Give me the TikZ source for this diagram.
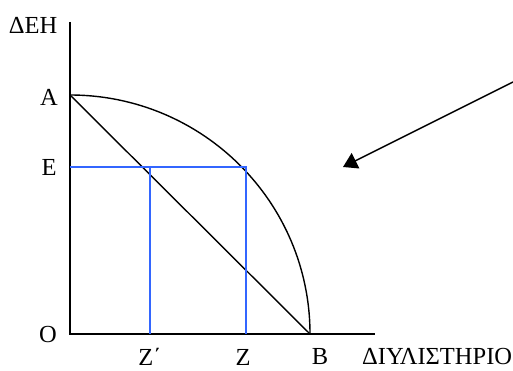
\documentclass[tikz,border=0pt]{standalone}
\usepackage{fontspec}
\setmainfont{Liberation Serif}
\usetikzlibrary{arrows.meta}
\definecolor{line_blue}{RGB}{51, 102, 255}

\tikzset{
  axis/.style={line width=2.2pt},
  bluecut/.style={draw=line_blue, line width=2.2pt},
  curvelabel/.style={font=\fontsize{24.5}{28}\selectfont, inner sep=0pt}
}

\begin{document}
\begin{tikzpicture}[x=1pt, y=1pt]
        \useasboundingbox (0,0) rectangle (513,370);
        % points
        \coordinate (O) at (70,36);
        \coordinate (top) at (70,348);
        \coordinate (xend) at (375,36);
        \coordinate (A) at (70,275);
        \coordinate (B) at (310,36);
        \coordinate (E) at (70,203);
        \coordinate (Zp) at (150,36);
        \coordinate (Z) at (246,36);
        \coordinate (Zptop) at (150,203);
        \coordinate (Ztop) at (246,203);
        \coordinate (arrstart) at (513,288);
        \coordinate (arrtip) at (343,203);

        % axes
        \draw[axis] (top) -- (O) -- (xend);

        % curve and straight line
        \draw[line width=1.4pt] (A) arc[start angle=90, end angle=0, x radius=240, y radius=239];
        \draw[line width=1.4pt] (A) -- (B);

        % blue lines
        \draw[bluecut] (E) -- (Ztop) -- (Z);
        \draw[bluecut] (Zptop) -- (Zp);

        % arrow
        \draw[line width=1.4pt, -{Triangle[length=14pt, width=17pt]}] (arrstart) -- (arrtip);

        % labels
        \node[curvelabel] (lDEH) at (33,345) {ΔΕΗ};
        \node[curvelabel] (lA) at (49,273) {Α};
        \node[curvelabel] (lE) at (49,203) {Ε};
        \node[curvelabel] (lO) at (48,35) {Ο};
        \node[curvelabel] (lZp) at (150,13) {Ζ΄};
        \node[curvelabel] (lZ) at (243,13) {Ζ};
        \node[curvelabel] (lB) at (320,13) {Β};
        \node[curvelabel, anchor=west] (lDIY) at (362,13) {ΔΙΥΛΙΣΤΗΡΙΟ};
      \end{tikzpicture}
\end{document}
